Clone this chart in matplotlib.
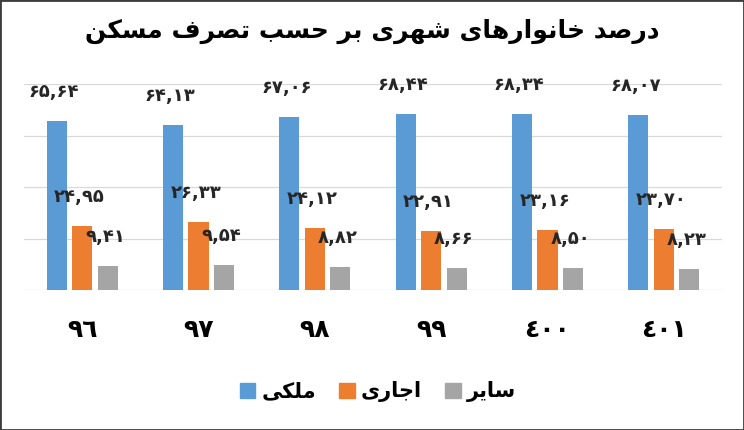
import numpy as np
import matplotlib
matplotlib.use("Agg")
import matplotlib.pyplot as plt
from matplotlib.patches import Patch, Rectangle

plt.rcParams['font.family'] = ['DejaVu Sans']

# data
years = ['٩٦', '٩٧', '٩٨', '٩٩', '٤٠٠', '٤٠١']
owned = [65.64, 64.13, 67.06, 68.44, 68.34, 68.07]
rented = [24.95, 26.33, 24.12, 22.91, 23.16, 23.70]
other = [9.41, 9.54, 8.82, 8.66, 8.50, 8.23]
series_names = ['ملکی', 'اجاری', 'سایر']
title = 'درصد خانوارهای شهری بر حسب تصرف مسکن'

colors = ['#5B9BD5', '#ED7D31', '#A5A5A5']

# matplotlib does no arabic shaping, so pick presentation forms by hand
# (isolated, final, initial, medial); right-joining letters have no initial/medial
FORMS = {
    'ا': ('\uFE8D', '\uFE8E', None, None),
    'د': ('\uFEA9', '\uFEAA', None, None),
    'ر': ('\uFEAD', '\uFEAE', None, None),
    'و': ('\uFEED', '\uFEEE', None, None),
    'ص': ('\uFEB9', '\uFEBA', '\uFEBB', '\uFEBC'),
    'خ': ('\uFEA5', '\uFEA6', '\uFEA7', '\uFEA8'),
    'ن': ('\uFEE5', '\uFEE6', '\uFEE7', '\uFEE8'),
    'ه': ('\uFEE9', '\uFEEA', '\uFEEB', '\uFEEC'),
    'ی': ('\uFBFC', '\uFBFD', '\uFBFE', '\uFBFF'),
    'ش': ('\uFEB5', '\uFEB6', '\uFEB7', '\uFEB8'),
    'ب': ('\uFE8F', '\uFE90', '\uFE91', '\uFE92'),
    'ح': ('\uFEA1', '\uFEA2', '\uFEA3', '\uFEA4'),
    'س': ('\uFEB1', '\uFEB2', '\uFEB3', '\uFEB4'),
    'ت': ('\uFE95', '\uFE96', '\uFE97', '\uFE98'),
    'ف': ('\uFED1', '\uFED2', '\uFED3', '\uFED4'),
    'م': ('\uFEE1', '\uFEE2', '\uFEE3', '\uFEE4'),
    'ک': ('\uFB8E', '\uFB8F', '\uFB90', '\uFB91'),
    'ل': ('\uFEDD', '\uFEDE', '\uFEDF', '\uFEE0'),
    'ج': ('\uFE9D', '\uFE9E', '\uFE9F', '\uFEA0'),
}


def shape(text):
    out = []
    for i, ch in enumerate(text):
        if ch not in FORMS:
            out.append(ch)
            continue
        prev = text[i - 1] if i > 0 else None
        nxt = text[i + 1] if i + 1 < len(text) else None
        join_prev = prev in FORMS and FORMS[prev][2] is not None
        join_next = FORMS[ch][2] is not None and nxt in FORMS
        iso, fin, ini, med = FORMS[ch]
        if join_prev and join_next:
            out.append(med)
        elif join_prev:
            out.append(fin)
        elif join_next:
            out.append(ini)
        else:
            out.append(iso)
    return ''.join(reversed(out))


FA_DIGITS = str.maketrans('0123456789.', '۰۱۲۳۴۵۶۷۸۹,')


def fa_num(v):
    return f'{v:.2f}'.translate(FA_DIGITS)


fig = plt.figure(figsize=(7.44, 4.30), dpi=100)
ax = fig.add_axes([24 / 744, 1 - 290 / 430, 698 / 744, 206 / 430])

x = np.arange(len(years))
width = 0.172
offset = 0.219
for k, vals in enumerate([owned, rented, other]):
    pos = x + (k - 1) * offset
    ax.bar(pos, vals, width, color=colors[k], zorder=3)
    for p, v in zip(pos, vals):
        ax.annotate(fa_num(v), (p, v), xytext=(-2, 21), textcoords='offset points',
                    ha='center', va='center', fontsize=13, fontweight='bold',
                    color='#262626')

ax.set_xlim(-0.5, len(years) - 0.5)
ax.set_ylim(0, 80)
ax.set_yticks([0, 20, 40, 60, 80])
ax.yaxis.grid(True, color='#D9D9D9', linewidth=0.9, zorder=0)
ax.set_yticklabels([])
ax.tick_params(axis='y', length=0)
for s in ax.spines.values():
    s.set_visible(False)

ax.set_xticks(x)
ax.set_xticklabels(years, fontsize=18, fontweight='bold')
ax.tick_params(axis='x', length=0, pad=20)

fig.text(372 / 744, 1 - 31 / 430, shape(title), ha='center', va='center',
         fontsize=18, fontweight='bold')

handles = [Patch(color=c) for c in colors]
fig.legend(handles, [shape(n) for n in series_names], loc='center',
           bbox_to_anchor=(378 / 744, 1 - 392 / 430), ncol=3, frameon=False,
           prop={'size': 15, 'weight': 'bold'}, handlelength=0.75, handleheight=0.75,
           handletextpad=0.3, columnspacing=1.1)

fig.patches.append(Rectangle((0, 0), 1, 1, transform=fig.transFigure, fill=False,
                             edgecolor='#3C3C3C', linewidth=2))

fig.savefig('out.png', dpi=100)
